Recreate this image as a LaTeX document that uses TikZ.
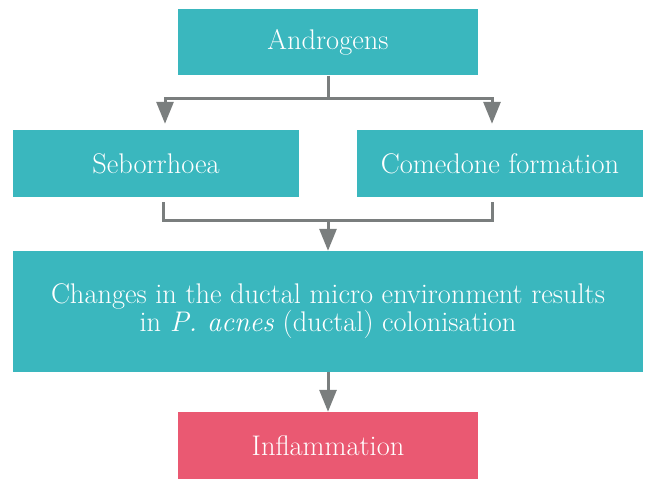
\documentclass[tikz,border=0pt]{standalone}
\usetikzlibrary{arrows.meta,positioning,calc}
\definecolor{teal}{RGB}{58,183,190}
\definecolor{rose}{RGB}{234,89,114}
\definecolor{arrowgray}{RGB}{122,126,126}
\tikzset{>={Triangle[length=22bp,width=17bp]}}

\begin{document}
\begin{tikzpicture}[x=1bp,y=1bp,font=\fontsize{28.5}{27}\selectfont]

        % Setup the style for the boxes
        \tikzset{box style/.style={rectangle,
                                   draw=none,
                                   inner sep=0pt,
                                   text=white,
                                   align=center,
                                   fill=teal},
                 link style/.style={line width=3bp,
                                    draw=arrowgray}}

        \useasboundingbox (0,0) rectangle (669,483);

        % Draw the boxes
        \node[box style, minimum width=300bp, minimum height=66bp] at (328, 440.5) (andr) {Androgens};
        \node[box style, minimum width=286bp, minimum height=67bp] at (156, 319.5) (sebo) {Seborrhoea};
        \node[box style, minimum width=286bp, minimum height=67bp] at (500, 319.5) (come) {Comedone formation};
        \node[box style, minimum width=630bp, minimum height=121bp] at (328, 171.5) (chg)
            {Changes in the ductal micro environment results\\in \textit{P. acnes} (ductal) colonisation};
        \node[box style, fill=rose, minimum width=300bp, minimum height=67bp] at (328, 37.5) (infl) {Inflammation};

        % Junctions
        \coordinate (j1) at (328, 384);
        \coordinate (j2) at (328, 262);

        % Connect the boxes with arrows
        \draw[link style] (andr.south) -- (j1);
        \draw[link style, ->, shorten >=6bp] (j1) -| ([xshift=9bp]sebo.north);
        \draw[link style, ->, shorten >=6bp] (j1) -| ([xshift=-8bp]come.north);
        \draw[link style] ([xshift=7bp,yshift=-5bp]sebo.south) |- (j2)
                          -| ([xshift=-8bp,yshift=-5bp]come.south);
        \draw[link style, ->] (j2) -- (chg.north);
        \draw[link style, ->] (chg.south) -- (infl.north);
\end{tikzpicture}
\end{document}
